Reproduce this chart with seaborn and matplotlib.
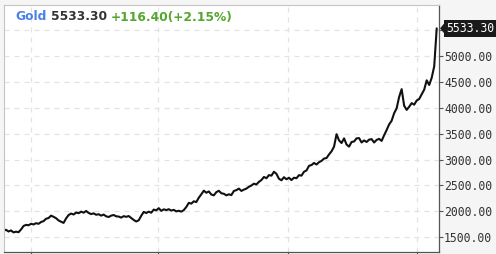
import matplotlib
matplotlib.use("Agg")
import matplotlib.pyplot as plt
import matplotlib.dates as mdates
from matplotlib.patches import Polygon
from matplotlib.transforms import IdentityTransform
import pandas as pd
import seaborn as sns

# ---- data (weekly closes) ----
start_date = "2022-10-07"
prices = [
    1625, 1645, 1612, 1632, 1595, 1608, 1598, 1650, 1718, 1740,
    1732, 1760, 1748, 1772, 1760, 1795, 1812, 1858, 1872, 1918,
    1895, 1868, 1825, 1800, 1778, 1865, 1930, 1958, 1940, 1978,
    1965, 1995, 1975, 2008, 1970, 1948, 1962, 1935, 1945, 1918,
    1938, 1905, 1892, 1918, 1930, 1905, 1900, 1880, 1908, 1895,
    1910, 1872, 1835, 1805, 1828, 1915, 1990, 1968, 1995, 1975,
    2035, 2020, 2062, 2010, 2040, 2025, 2042, 2015, 2030, 2000,
    2012, 1995, 2025, 2085, 2165, 2150, 2195, 2180, 2265, 2330,
    2400, 2360, 2385, 2325, 2310, 2372, 2398, 2350, 2340, 2310,
    2330, 2315, 2395, 2410, 2440, 2395, 2420, 2440, 2475, 2500,
    2535, 2520, 2570, 2605, 2665, 2640, 2700, 2690, 2765, 2725,
    2630, 2600, 2660, 2620, 2650, 2605, 2650, 2640, 2700, 2690,
    2765, 2790, 2880, 2895, 2935, 2905, 2950, 2975, 3020, 3030,
    3100, 3160, 3250, 3490, 3370, 3320, 3410, 3290, 3250, 3340,
    3350, 3410, 3415, 3330, 3370, 3340, 3385, 3395, 3330, 3380,
    3400, 3360, 3470, 3570, 3680, 3750, 3895, 3990, 4210, 4360,
    4040, 3960, 4020, 4090, 4060, 4140, 4170, 4260, 4350, 4530,
    4440, 4580, 4800, 5533.30,
]
y_ticks = [1500, 2000, 2500, 3000, 3500, 4000, 4500, 5000, 5500]
grid_dates = ["2022-12-23", "2023-12-13", "2024-12-09", "2025-12-06"]
name = "Gold"
last_price = 5533.30
change = 116.40
change_pct = 2.15

dates = pd.date_range(start_date, periods=len(prices), freq="7D")
df = pd.DataFrame({"date": dates, "price": prices})

sns.set_style("white")
plt.rcParams["font.family"] = ["DejaVu Sans"]

W, H = 496, 254
fig = plt.figure(figsize=(W / 100, H / 100), dpi=100, facecolor="#f5f5f5")
ax = fig.add_axes([3.5 / W, (H - 252) / H, (438.5 - 3.5) / W, (252 - 4.5) / H])
ax.set_facecolor("white")

sns.lineplot(data=df, x="date", y="price", color="#111111", linewidth=1.5, ax=ax)

ax.set_xlim(dates[0], pd.Timestamp("2026-02-04"))
ax.set_ylim(1216, 5994)
ax.set_xlabel("")
ax.set_ylabel("")

# grid
ax.set_xticks([mdates.date2num(pd.Timestamp(d)) for d in grid_dates])
ax.set_xticklabels([])
ax.set_yticks(y_ticks)
ax.set_yticklabels([f"{v:.2f}" if v != 5500 else "" for v in y_ticks])
ax.grid(True, color="#e3e3e3", linestyle=(0, (4, 4)), linewidth=0.9)
ax.set_axisbelow(True)

ax.yaxis.tick_right()
ax.tick_params(axis="y", which="both", right=True, left=False, length=3, width=0.8,
               color="#555555", pad=1, labelcolor="#333333")
ax.tick_params(axis="x", bottom=True, length=3, width=0.8, color="#555555")
for lab in ax.get_yticklabels():
    lab.set_fontfamily("DejaVu Sans Mono")
    lab.set_fontsize(8.3)

for side in ["top", "left"]:
    ax.spines[side].set_color("#c4c4c4")
    ax.spines[side].set_linewidth(0.8)
for side in ["right", "bottom"]:
    ax.spines[side].set_color("#555555")
    ax.spines[side].set_linewidth(0.9)

# last price label
ann = ax.annotate(f"{last_price:.2f}", xy=(1.0, last_price),
                  xycoords=("axes fraction", "data"),
                  xytext=(7.5, 0), textcoords="offset pixels", ha="left", va="center",
                  fontfamily="DejaVu Sans Mono", fontsize=8.3, color="white",
                  bbox=dict(boxstyle="square,pad=0.17", facecolor="#1a1a1a",
                            edgecolor="none"),
                  annotation_clip=False, zorder=10)

fig.canvas.draw()
renderer = fig.canvas.get_renderer()

# small arrow on the left of the price label
bb = ann.get_bbox_patch().get_window_extent(renderer)
ymid = (bb.y0 + bb.y1) / 2
half = (bb.y1 - bb.y0) * 0.32
tri = Polygon([[bb.x0 + 0.5, ymid + half], [bb.x0 - 4, ymid], [bb.x0 + 0.5, ymid - half]],
              closed=True, facecolor="#1a1a1a", edgecolor="none",
              transform=IdentityTransform(), zorder=10)
fig.add_artist(tri)

# header text
x = 15 / W
yc = 1 - 17 / H
parts = [(name, "#4a80e8"), (" ", "#333333"), (f"{last_price:.2f}", "#333333"),
         (" ", "#333333"), (f"+{change:.2f}(+{change_pct:.2f}%)", "#55a62e")]
for txt, col in parts:
    t = fig.text(x, yc, txt, color=col, fontsize=8.8, fontweight="bold",
                 va="center", ha="left", zorder=20)
    tb = t.get_window_extent(renderer)
    x += tb.width / W

fig.savefig("out.png", dpi=100, facecolor=fig.get_facecolor())
